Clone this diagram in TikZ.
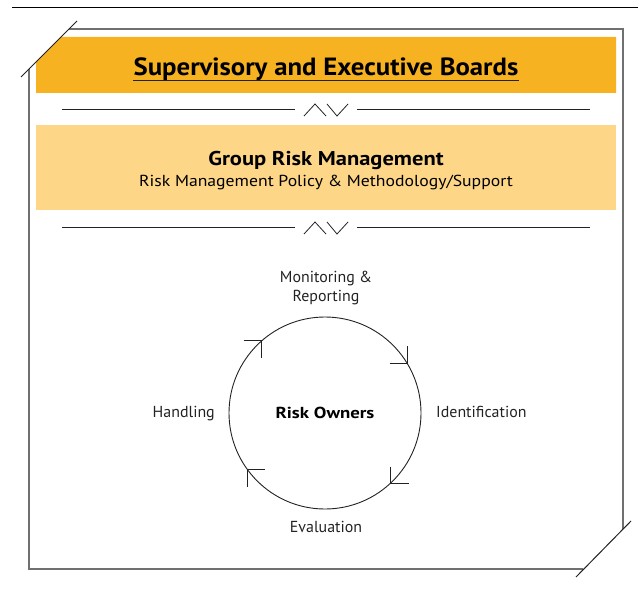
\documentclass[tikz,border=0pt]{standalone}
\usepackage{fontspec}
\setmainfont{PT Sans}
\definecolor{boardorange}{HTML}{F6B221}
\definecolor{grmlight}{HTML}{FDD688}
\definecolor{framegray}{HTML}{707070}
\definecolor{inkgray}{HTML}{222222}
\tikzset{
  frameline/.style={draw=framegray,line width=1.3bp},
  cutline/.style={draw=inkgray,line width=1bp},
  sepline/.style={draw=inkgray,line width=0.8bp},
  barb/.style={draw=inkgray,line width=0.9bp},
  titletext/.style={inner sep=0pt,anchor=base,font=\fontsize{25}{28}\selectfont\bfseries\addfontfeature{FakeStretch=1.075}},
  grouptext/.style={inner sep=0pt,anchor=base,font=\fontsize{20}{22}\selectfont\bfseries\addfontfeature{FakeStretch=1.13}},
  subtext/.style={inner sep=0pt,anchor=base,font=\fontsize{16}{18}\selectfont\addfontfeature{FakeStretch=1.11}},
  steplabel/.style={inner sep=0pt,text=inkgray,font=\fontsize{16}{19}\selectfont,align=center},
  cyclenode/.style={circle,draw=inkgray,line width=0.9bp,minimum size=192bp,inner sep=0pt,font=\fontsize{16}{18}\selectfont\bfseries\addfontfeature{FakeStretch=1.18}},
  pics/splitbar/.style={code={
    \draw[sepline] (-264,0) -- (-31,0);
    \draw[sepline] (31,0) -- (264,0);
    \draw[sepline] (-22,7) -- (-11,-5) -- (0,7);
    \draw[sepline] (1,-5) -- (11,7) -- (22,-5);
  }}
}
\begin{document}
\begin{tikzpicture}[x=1bp,y=-1bp]
\useasboundingbox (0,0) rectangle (638,590);
% top rule
\draw[line width=1bp] (12,8) -- (638,8);
% frame
\draw[frameline] (69,29) -- (623,29) -- (623,529);
\draw[frameline] (583,569) -- (29,569) -- (29,69);
% boxes
\fill[boardorange] (61,37) -- (616,37) -- (616,93) -- (36,93) -- (36,62) -- cycle;
\fill[grmlight] (36,125) rectangle (616,210);
\draw[cutline] (21,77) -- (77,21);
\draw[cutline] (576,577) -- (631,521);
% texts in boxes
\node[titletext] (boards) at (326,76) {Supervisory and Executive Boards};
\draw[line width=1.8bp,draw=inkgray] ([yshift=-4.5bp]boards.base west) -- ([yshift=-4.5bp]boards.base east);
\node[grouptext] (grm) at (326,166) {Group Risk Management};
\node[subtext] (policy) at (326,187) {Risk Management Policy \& Methodology/Support};
% separators
\pic at (326,109) {splitbar};
\pic at (326,227) {splitbar};
% cycle
\node[cyclenode] (cyc) at (325,413) {Risk Owners};
\draw[barb] (cyc.131) ++(-18,0) -- (cyc.131) -- ++(0,18);
\draw[barb] (cyc.31.6) ++(-18,0) -- (cyc.31.6) -- ++(0,-17);
\draw[barb] (cyc.216.6) ++(18,0) -- (cyc.216.6) -- ++(0,17);
\draw[barb] (cyc.313.7) ++(0,-17) -- (cyc.313.7) -- ++(18,0);
% labels
\node[steplabel] (monitor) at (326,288) {Monitoring \&\\Reporting};
\node[steplabel,anchor=base west] (ident) at (436,417) {Identification};
\node[steplabel,anchor=base east] (handle) at (215,417) {Handling};
\node[steplabel,anchor=base] (eval) at (326,532) {Evaluation};
\end{tikzpicture}
\end{document}
